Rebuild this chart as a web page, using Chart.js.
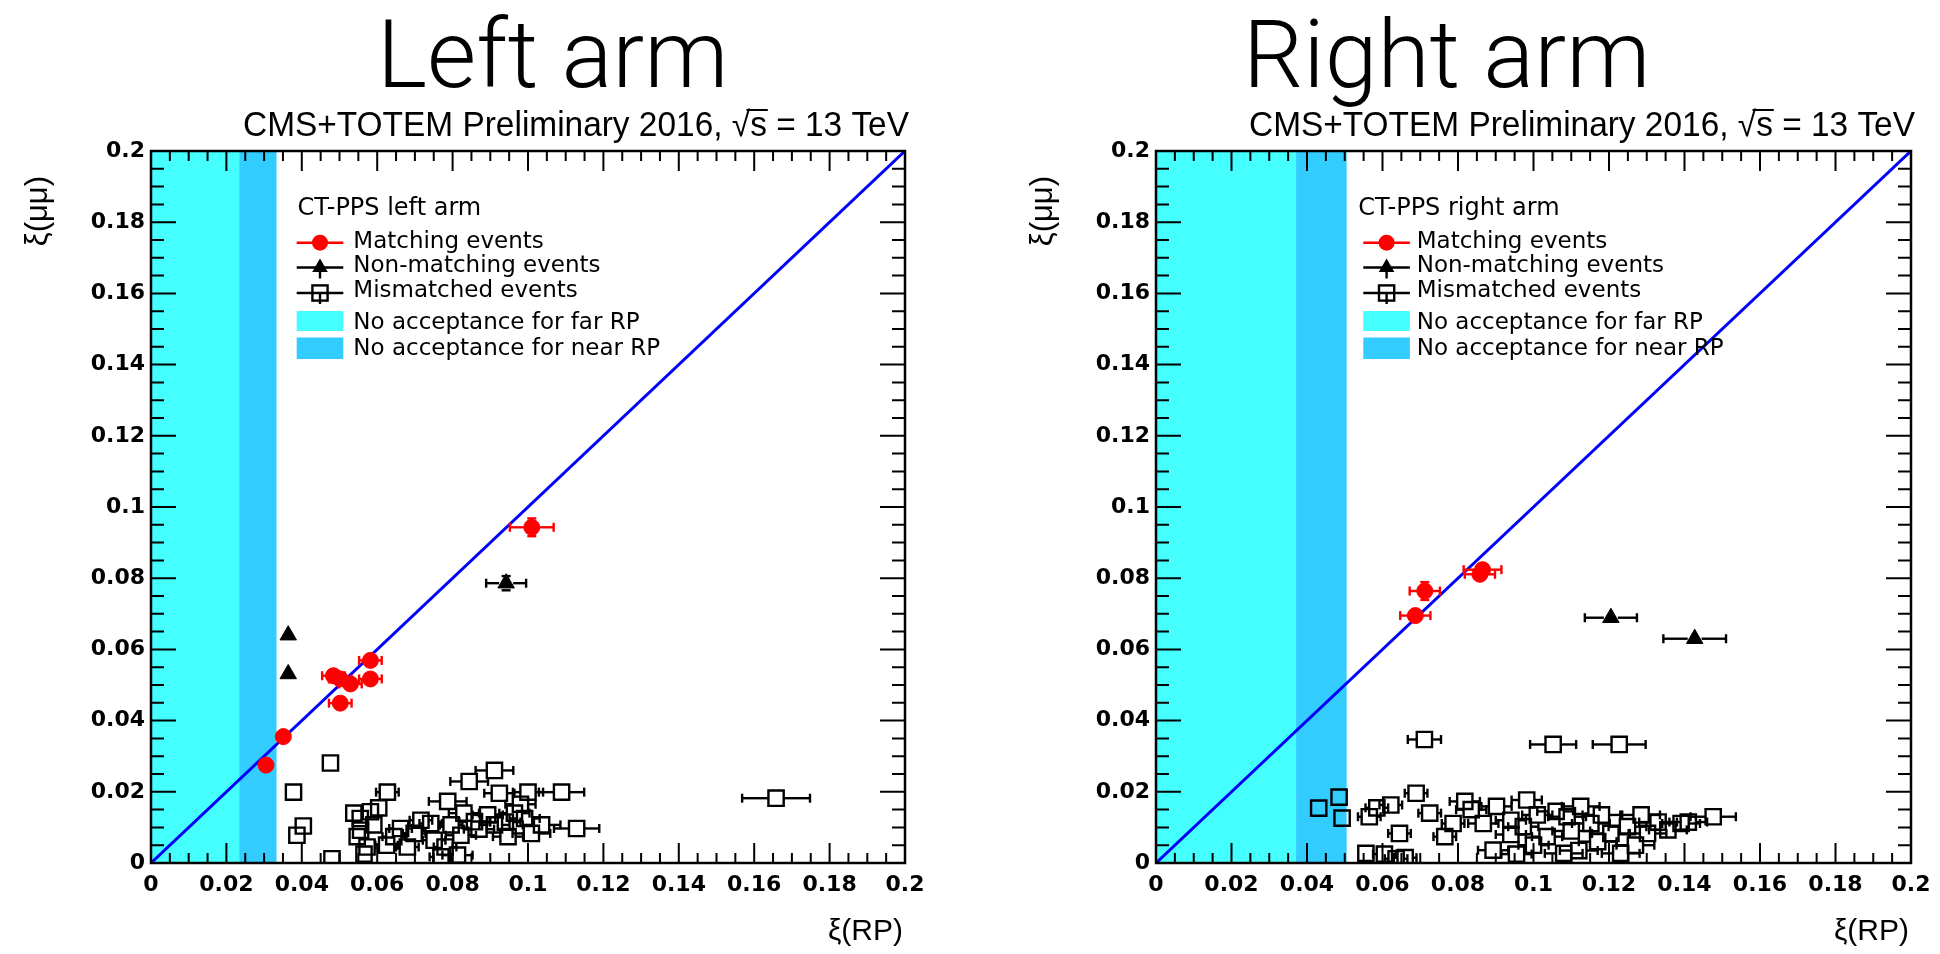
<!DOCTYPE html>
<html><head><meta charset="utf-8">
<script src="https://cdn.jsdelivr.net/npm/chart.js@4.4.1/dist/chart.umd.min.js"></script>
<style>
html,body{margin:0;padding:0;background:#fff;width:1940px;height:954px;overflow:hidden}
canvas{position:absolute;left:0;top:0}
</style></head>
<body>
<canvas id="cl" width="1940" height="954"></canvas>
<canvas id="cr" width="1940" height="954"></canvas>
<script>
// ---------- tick labels ----------
const tickValues = [0, 0.02, 0.04, 0.06, 0.08, 0.1, 0.12, 0.14, 0.16, 0.18, 0.2];
const tickLabels = ['0', '0.02', '0.04', '0.06', '0.08', '0.1', '0.12', '0.14', '0.16', '0.18', '0.2'];
const diagX = [0, 0.2];
const diagY = [0, 0.2];

// ---------- LEFT ARM ----------
const leftBands = [0.0234, 0.0333]; // far RP edge, near RP edge
const leftMatchX = [0.101, 0.0305, 0.0351, 0.0502, 0.0484, 0.0502, 0.0529, 0.0582, 0.0582];
const leftMatchY = [0.0943, 0.0275, 0.0355, 0.0449, 0.0526, 0.0517, 0.0503, 0.0569, 0.0517];
const leftMatchXErr = [0.0058, 0.0015, 0.0015, 0.003, 0.003, 0.003, 0.003, 0.003, 0.003];
const leftMatchYErr = [0.0025, 0.001, 0.001, 0.0012, 0.0012, 0.0012, 0.0012, 0.0012, 0.0012];
const leftNonX = [0.0942, 0.0364, 0.0364];
const leftNonY = [0.0786, 0.064, 0.0531];
const leftNonXErr = [0.0053, 0.001, 0.001];
const leftNonYErr = [0.002, 0.001, 0.001];
const leftMisX = [0.0476,0.0378,0.0404,0.0387,0.048,0.0627,0.0911,0.0844,0.0787,0.0924,0.1,0.1089,0.1129,0.1658,0.0538,0.0556,0.0573,0.0582,0.0547,0.0591,0.0662,0.0698,0.068,0.0742,0.0751,0.0796,0.0822,0.0813,0.0858,0.0893,0.0947,0.0964,0.0991,0.1009,0.1036,0.0769,0.0911,0.0716,0.0644,0.0555,0.0604,0.0565,0.087,0.094,0.098,0.083,0.078,0.0625];
const leftMisY = [0.0281,0.0199,0.0104,0.0078,0.0012,0.0199,0.026,0.0229,0.0173,0.0196,0.0199,0.0199,0.0097,0.0182,0.014,0.0092,0.0045,0.0144,0.0074,0.0107,0.0097,0.0083,0.0045,0.0111,0.0064,0.0107,0.0078,0.0022,0.0116,0.0135,0.0074,0.014,0.0125,0.0083,0.0107,0.0017,0.0107,0.012,0.0074,0.0125,0.0155,0.0025,0.0095,0.0115,0.0165,0.014,0.0045,0.005];
const leftMisXErr = [0.002,0.001,0.002,0.001,0.002,0.003,0.005,0.005,0.005,0.004,0.004,0.006,0.006,0.009,0.002,0.002,0.002,0.002,0.002,0.002,0.003,0.003,0.003,0.003,0.003,0.003,0.004,0.004,0.004,0.004,0.004,0.004,0.004,0.005,0.005,0.003,0.004,0.003,0.003,0.002,0.002,0.002,0.004,0.004,0.004,0.004,0.003,0.003];

// ---------- RIGHT ARM ----------
const rightBands = [0.0371, 0.0505];
const rightMatchX = [0.0712, 0.0687, 0.0865, 0.0858];
const rightMatchY = [0.0764, 0.0695, 0.0824, 0.0811];
const rightMatchXErr = [0.004, 0.004, 0.005, 0.004];
const rightMatchYErr = [0.0025, 0.0015, 0.002, 0.002];
const rightNonX = [0.1205, 0.1427];
const rightNonY = [0.0689, 0.063];
const rightNonXErr = [0.0069, 0.0083];
const rightNonYErr = [0.001, 0.001];
const rightMisX = [0.1052,0.1227,0.1476,0.0711,0.0431,0.0485,0.0493,0.0689,0.0622,0.0565,0.0725,0.0645,0.0556,0.0636,0.0818,0.0902,0.0982,0.0787,0.0867,0.0893,0.0765,0.1125,0.1285,0.1391,0.108,0.1231,0.1302,0.1205,0.0973,0.1036,0.1152,0.1356,0.1089,0.1249,0.094,0.1,0.106,0.117,0.112,0.127,0.133,0.141,0.101,0.0605,0.066,0.0585,0.0835,0.094,0.118,0.11,0.0955];
const rightMisY = [0.0333,0.0333,0.013,0.0347,0.0154,0.0185,0.0126,0.0196,0.0163,0.013,0.014,0.0083,0.0027,0.0012,0.0173,0.0159,0.0177,0.0111,0.0111,0.0036,0.0074,0.0159,0.0135,0.0111,0.0027,0.0027,0.0083,0.0083,0.0102,0.0074,0.0111,0.0093,0.013,0.0102,0.012,0.005,0.0145,0.006,0.0035,0.005,0.0115,0.0115,0.0135,0.0025,0.0015,0.0155,0.015,0.008,0.0135,0.009,0.0025];
const rightMisXErr = [0.0061,0.007,0.006,0.0044,0.002,0.002,0.002,0.003,0.003,0.003,0.003,0.003,0.002,0.003,0.004,0.004,0.004,0.003,0.004,0.004,0.003,0.005,0.005,0.005,0.005,0.005,0.005,0.005,0.004,0.004,0.005,0.005,0.005,0.005,0.004,0.004,0.005,0.005,0.005,0.005,0.005,0.005,0.004,0.003,0.003,0.003,0.004,0.004,0.005,0.005,0.004];

const legendLabels = ['Matching events', 'Non-matching events', 'Mismatched events', 'No acceptance for far RP', 'No acceptance for near RP'];
const FAR = '#45FFFF', NEAR = '#33CCFF';

const panels = [
  {id:'cl', padL:0, padR:1035, title:'Left arm', titleX:377, header:'CT-PPS left arm',
   symX:145.7, textX:202.3, headX:146.5, bands:leftBands,
   mX:leftMatchX, mY:leftMatchY, mXE:leftMatchXErr, mYE:leftMatchYErr,
   nX:leftNonX, nY:leftNonY, nXE:leftNonXErr, nYE:leftNonYErr,
   sX:leftMisX, sY:leftMisY, sXE:leftMisXErr},
  {id:'cr', padL:1005, padR:29, title:'Right arm', titleX:1243, header:'CT-PPS right arm',
   symX:207.3, textX:260.7, headX:202.3, bands:rightBands,
   mX:rightMatchX, mY:rightMatchY, mXE:rightMatchXErr, mYE:rightMatchYErr,
   nX:rightNonX, nY:rightNonY, nXE:rightNonXErr, nYE:rightNonYErr,
   sX:rightMisX, sY:rightMisY, sXE:rightMisXErr}
];

function mk(x, y) { return x.map((v, i) => ({x: v, y: y[i]})); }

function drawMarker(ctx, style, x, y, color) {
  ctx.save();
  ctx.strokeStyle = color; ctx.fillStyle = color;
  if (style === 'circle') {
    ctx.beginPath(); ctx.arc(x, y, 8, 0, Math.PI * 2); ctx.fill();
  } else if (style === 'triangle') {
    ctx.beginPath(); ctx.moveTo(x, y - 9); ctx.lineTo(x + 7.8, y + 4.5); ctx.lineTo(x - 7.8, y + 4.5); ctx.closePath(); ctx.fill();
  } else {
    ctx.lineWidth = 2.4; ctx.strokeRect(x - 7.6, y - 7.6, 15.2, 15.2);
  }
  ctx.restore();
}

function buildChart(c) {
  const datasets = [
    {label: legendLabels[0], data: mk(c.mX, c.mY), xErr: c.mXE, yErr: c.mYE, half: 7.5,
     pointStyle: 'circle', pointRadius: 8, backgroundColor: '#ff0000', borderColor: '#ff0000', borderWidth: 1, clip: 0},
    {label: legendLabels[1], data: mk(c.nX, c.nY), xErr: c.nXE, yErr: c.nYE, half: 7,
     pointStyle: 'triangle', pointRadius: 9.5, backgroundColor: '#000', borderColor: '#000', borderWidth: 1, clip: 0},
    {label: legendLabels[2], data: mk(c.sX, c.sY), xErr: c.sXE, half: 7.6,
     pointStyle: 'rect', pointRadius: 10.8, backgroundColor: 'rgba(0,0,0,0)', borderColor: '#000', borderWidth: 2.4, clip: 0},
    {label: 'diagonal', data: mk(diagX, diagY), showLine: true, borderColor: '#0000ff', borderWidth: 3,
     pointRadius: 0, fill: false, clip: 0}
  ];

  const bandPlugin = {
    id: 'bands',
    beforeDatasetsDraw(chart) {
      const ctx = chart.ctx, xs = chart.scales.x, a = chart.chartArea;
      const x0 = xs.getPixelForValue(0), xf = xs.getPixelForValue(c.bands[0]), xn = xs.getPixelForValue(c.bands[1]);
      ctx.save();
      ctx.fillStyle = FAR; ctx.fillRect(x0, a.top, xf - x0, a.bottom - a.top);
      ctx.fillStyle = NEAR; ctx.fillRect(xf, a.top, xn - xf, a.bottom - a.top);
      ctx.restore();
    }
  };

  const errPlugin = {
    id: 'errbars',
    beforeDatasetDraw(chart, args) {
      const ds = chart.data.datasets[args.index];
      if (!ds.xErr && !ds.yErr) return;
      const ctx = chart.ctx, xs = chart.scales.x, ys = chart.scales.y, a = chart.chartArea;
      const half = ds.half, cap = 4.5;
      ctx.save();
      ctx.beginPath(); ctx.rect(a.left, a.top, a.right - a.left, a.bottom - a.top); ctx.clip();
      ctx.strokeStyle = ds.borderColor; ctx.lineWidth = 2.4;
      const seg = (x1, y1, x2, y2) => { ctx.beginPath(); ctx.moveTo(x1, y1); ctx.lineTo(x2, y2); ctx.stroke(); };
      ds.data.forEach((p, i) => {
        const px = xs.getPixelForValue(p.x), py = ys.getPixelForValue(p.y);
        if (ds.xErr) {
          const lo = xs.getPixelForValue(p.x - ds.xErr[i]), hi = xs.getPixelForValue(p.x + ds.xErr[i]);
          if (px - lo > half) { seg(lo, py, px - half, py); seg(lo, py - cap, lo, py + cap); }
          if (hi - px > half) { seg(px + half, py, hi, py); seg(hi, py - cap, hi, py + cap); }
        }
        if (ds.yErr) {
          const top = ys.getPixelForValue(p.y + ds.yErr[i]), bot = ys.getPixelForValue(p.y - ds.yErr[i]);
          if (py - top > half) { seg(px, top, px, py - half); seg(px - cap, top, px + cap, top); }
          if (bot - py > half) { seg(px, py + half, px, bot); seg(px - cap, bot, px + cap, bot); }
        }
      });
      ctx.restore();
    }
  };

  const decorPlugin = {
    id: 'decor',
    afterDraw(chart) {
      const ctx = chart.ctx, xs = chart.scales.x, ys = chart.scales.y, a = chart.chartArea;
      ctx.save();
      // ticks (inward, all four sides)
      ctx.strokeStyle = '#000'; ctx.lineWidth = 2;
      for (let i = 0; i <= 40; i++) {
        const v = i * 0.005, major = i % 4 === 0;
        const px = xs.getPixelForValue(v), py = ys.getPixelForValue(v);
        const lx = major ? 20 : 10, ly = major ? 25 : 13;
        ctx.beginPath();
        ctx.moveTo(px, a.bottom); ctx.lineTo(px, a.bottom - lx);
        ctx.moveTo(px, a.top); ctx.lineTo(px, a.top + lx);
        ctx.moveTo(a.left, py); ctx.lineTo(a.left + ly, py);
        ctx.moveTo(a.right, py); ctx.lineTo(a.right - ly, py);
        ctx.stroke();
      }
      // frame
      ctx.lineWidth = 2.5;
      ctx.strokeRect(a.left, a.top, a.right - a.left, a.bottom - a.top);

      // legend
      ctx.fillStyle = '#000';
      ctx.textAlign = 'left'; ctx.textBaseline = 'alphabetic';
      ctx.font = '24px "DejaVu Sans"';
      ctx.fillText(c.header, a.left + c.headX, 215);
      ctx.font = '23px "DejaVu Sans"';
      const s0 = a.left + c.symX, s1 = s0 + 46.6, sm = (s0 + s1) / 2, tx = a.left + c.textX;
      const lineY = [242.7, 267.5, 293];
      const styles = ['circle', 'triangle', 'rect'], cols = ['#ff0000', '#000', '#000'];
      for (let k = 0; k < 3; k++) {
        ctx.strokeStyle = cols[k]; ctx.lineWidth = 2.4;
        ctx.beginPath(); ctx.moveTo(s0, lineY[k]); ctx.lineTo(s1, lineY[k]); ctx.stroke();
        if (k > 0) { ctx.beginPath(); ctx.moveTo(sm, lineY[k]); ctx.lineTo(sm, lineY[k] + 11); ctx.stroke(); }
        drawMarker(ctx, styles[k], sm, lineY[k], cols[k]);
      }
      ctx.fillStyle = FAR; ctx.fillRect(s0, 311, 46.6, 20);
      ctx.fillStyle = NEAR; ctx.fillRect(s0, 337.5, 46.6, 21.5);
      ctx.fillStyle = '#000';
      const base = [248.3, 272, 297.3, 329, 355];
      for (let k = 0; k < 5; k++) ctx.fillText(legendLabels[k], tx, base[k]);

      // axis titles
      ctx.font = '30px "Liberation Sans"';
      ctx.textAlign = 'right';
      ctx.fillText('\u03BE(RP)', a.right - 2, 940);
      ctx.save();
      ctx.translate(a.left - 104, 176); ctx.rotate(-Math.PI / 2);
      ctx.textAlign = 'right';
      ctx.font = '31px "Liberation Sans"';
      ctx.fillText('\u03BE(\u03BC\u03BC)', 0, 0);
      ctx.restore();

      // CMS label
      ctx.font = '35px "Liberation Sans"';
      ctx.textAlign = 'left';
      const p1 = 'CMS+TOTEM Preliminary 2016, ', p2 = '\u221A', p3 = 's', p4 = ' = 13 TeV';
      const w1 = ctx.measureText(p1).width, w2 = ctx.measureText(p2).width, w3 = ctx.measureText(p3).width, w4 = ctx.measureText(p4).width;
      const total = w1 + w2 + w3 + w4, target = 666, k2 = target / total;
      ctx.save();
      ctx.translate(a.right + 4 - target, 136); ctx.scale(k2, 1);
      ctx.fillText(p1, 0, 0); ctx.fillText(p2, w1, 0); ctx.fillText(p3, w1 + w2, 0); ctx.fillText(p4, w1 + w2 + w3, 0);
      ctx.lineWidth = 2; ctx.strokeStyle = '#000';
      ctx.beginPath(); ctx.moveTo(w1 + w2 * 0.8, -26); ctx.lineTo(w1 + w2 + w3 + 1, -26); ctx.stroke();
      ctx.restore();

      // big slide title
      ctx.font = '300 95px Roboto';
      ctx.textAlign = 'left';
      ctx.fillText(c.title, c.titleX, 87);
      ctx.restore();
    }
  };

  const tickCfg = {
    autoSkip: false, maxRotation: 0, minRotation: 0, color: '#000',
    font: {family: 'DejaVu Sans', size: 22, weight: 'bold'},
    callback: (v, i) => tickLabels[i]
  };

  return new Chart(document.getElementById(c.id), {
    type: 'scatter',
    data: {datasets},
    options: {
      responsive: false, animation: false, devicePixelRatio: 1,
      layout: {padding: {left: c.padL, right: c.padR, top: 151, bottom: 31}},
      plugins: {legend: {display: false}, tooltip: {enabled: false}, title: {display: false}},
      scales: {
        x: {type: 'linear', position: 'bottom', min: 0, max: 0.2,
            afterBuildTicks: s => { s.ticks = tickValues.map(v => ({value: v})); },
            afterFit: s => { s.height = 60; },
            grid: {display: false, drawTicks: false}, border: {display: false},
            ticks: Object.assign({padding: 9}, tickCfg)},
        y: {type: 'linear', position: 'left', min: 0, max: 0.2,
            afterBuildTicks: s => { s.ticks = tickValues.map(v => ({value: v})); },
            afterFit: s => { s.width = 151; },
            grid: {display: false, drawTicks: false}, border: {display: false},
            ticks: Object.assign({padding: 6}, tickCfg)}
      }
    },
    plugins: [bandPlugin, errPlugin, decorPlugin]
  });
}

panels.forEach(buildChart);
</script>
</body></html>
